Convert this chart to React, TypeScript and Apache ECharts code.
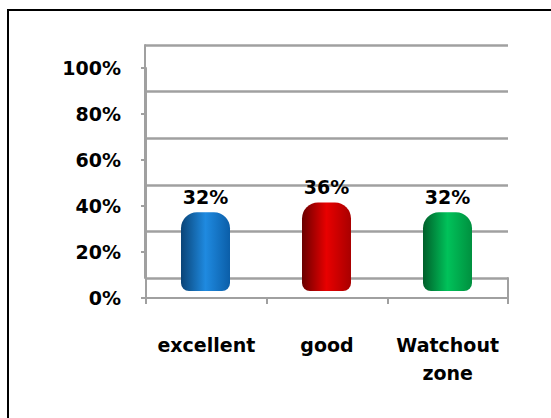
import React, { useEffect, useRef } from "react";
import * as echarts from "echarts";

const categories = ["excellent", "good", "Watchout\nzone"];
const values = [0.32, 0.36, 0.32];
const yTicks = [0, 0.2, 0.4, 0.6, 0.8, 1];
const barColors = [
  ["#0a4477", "#1f8ae0", "#0b5ea8"],
  ["#6a0000", "#e80000", "#a80000"],
  ["#005f2a", "#00c25a", "#00903f"],
];

const FONT = "DejaVu Sans";

export default function App() {
  const ref = useRef<HTMLDivElement>(null);
  useEffect(() => {
    document.body.style.margin = "0";
    const chart = echarts.init(ref.current!, null, { renderer: "svg" });
    const gridColor = "#a0a0a0";
    const L = 145, R = 43;
    chart.setOption({
      animation: false,
      backgroundColor: "#ffffff",
      grid: [
        { left: L, right: R, top: 45, bottom: 140 },
        { left: L + 1, right: R, top: 68, bottom: 120 },
        { left: L, right: R, top: 45, bottom: 127 },
        { left: L, right: R, top: 278, bottom: 120 },
      ],
      xAxis: [
        { type: "category", gridIndex: 0, data: categories, show: false },
        {
          type: "category",
          gridIndex: 1,
          data: categories,
          axisLine: { show: true, lineStyle: { color: gridColor, width: 2 } },
          axisTick: { show: true, length: 6, interval: 0, lineStyle: { color: gridColor, width: 2 } },
          axisLabel: {
            interval: 0,
            hideOverlap: false,
            margin: 33,
            fontFamily: FONT,
            fontWeight: "bold",
            fontSize: 19,
            lineHeight: 28,
            color: "#000",
            verticalAlign: "top",
          },
        },
        { type: "category", gridIndex: 2, data: categories, show: false },
        { type: "category", gridIndex: 3, data: categories, show: false },
      ],
      yAxis: [
        {
          type: "value",
          gridIndex: 0,
          min: 0,
          max: 1,
          interval: 0.2,
          axisLine: { show: true, lineStyle: { color: gridColor, width: 2 } },
          axisTick: { show: false },
          axisLabel: { show: false },
          splitLine: { show: true, lineStyle: { color: gridColor, width: 2.5 } },
        },
        {
          type: "value",
          gridIndex: 1,
          min: 0,
          max: 1,
          interval: 0.2,
          axisLine: { show: true, lineStyle: { color: gridColor, width: 2 } },
          axisTick: { show: true, length: 5, lineStyle: { color: gridColor, width: 2 } },
          splitLine: { show: false },
          axisLabel: {
            margin: 25,
            fontFamily: FONT,
            fontWeight: "bold",
            fontSize: 19,
            color: "#000",
            formatter: (v: number) => (yTicks.includes(Math.round(v * 10) / 10) ? Math.round(v * 100) + "%" : ""),
          },
        },
        { type: "value", gridIndex: 2, min: 0, max: 1, show: false },
        {
          type: "value",
          gridIndex: 3,
          position: "right",
          axisLine: { show: true, lineStyle: { color: gridColor, width: 2 } },
          axisTick: { show: false },
          axisLabel: { show: false },
          splitLine: { show: false },
        },
      ],
      series: [
        {
          type: "bar",
          xAxisIndex: 2,
          yAxisIndex: 2,
          barWidth: 49,
          data: values.map((v, i) => ({
            value: v,
            itemStyle: {
              borderRadius: [16, 16, 8, 8],
              color: new echarts.graphic.LinearGradient(0, 0, 1, 0, [
                { offset: 0, color: barColors[i][0] },
                { offset: 0.5, color: barColors[i][1] },
                { offset: 1, color: barColors[i][2] },
              ]),
            },
          })),
          label: {
            show: true,
            position: "top",
            distance: 6,
            fontFamily: FONT,
            fontWeight: "bold",
            fontSize: 19,
            color: "#000",
            formatter: (p: any) => Math.round(p.value * 100) + "%",
          },
        },
      ],
      graphic: [
        {
          type: "rect",
          shape: { x: 8, y: 10, width: 700, height: 600 },
          style: { fill: "none", stroke: "#000", lineWidth: 2 },
          silent: true,
        },
      ],
    });
    return () => chart.dispose();
  }, []);
  return <div ref={ref} style={{ width: 551, height: 418 }} />;
}
